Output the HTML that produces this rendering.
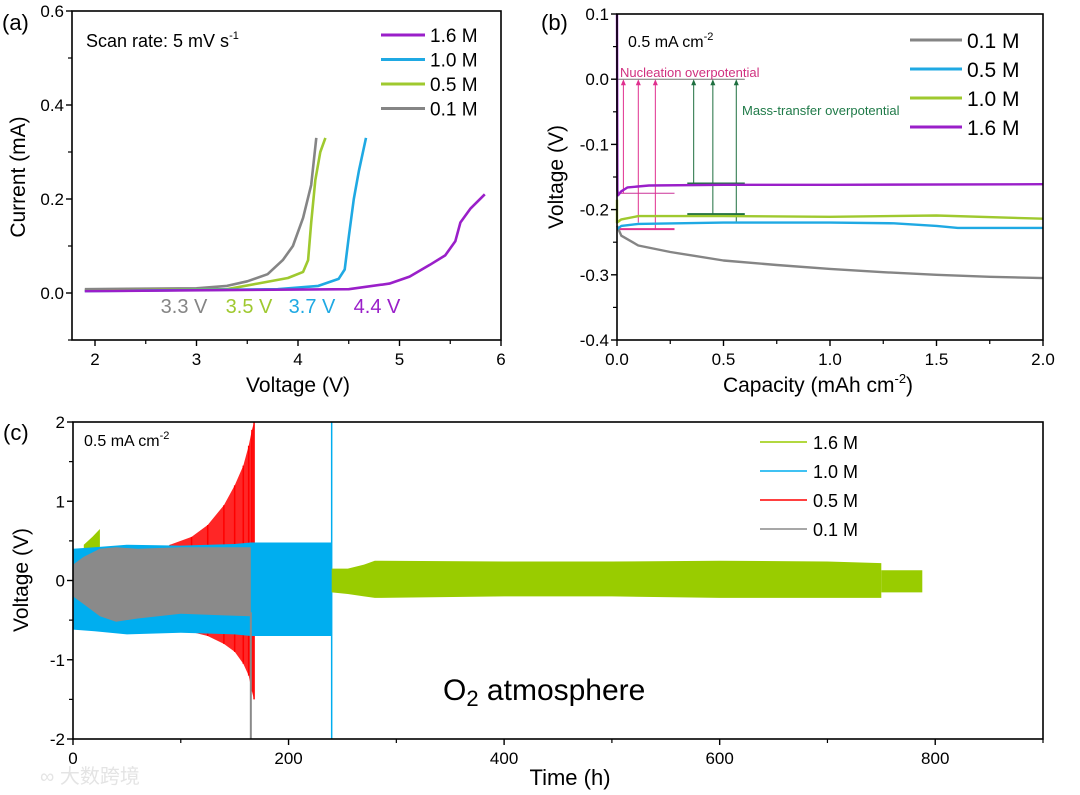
<!DOCTYPE html>
<html><head><meta charset="utf-8">
<style>
html,body{margin:0;padding:0;background:#fff;}
svg{display:block;font-family:"Liberation Sans","Noto Sans CJK SC",sans-serif;}
</style></head>
<body>
<svg id="fig" width="1080" height="795" viewBox="0 0 1080 795" xmlns="http://www.w3.org/2000/svg">
<rect width="1080" height="795" fill="#fff"/>
<g id="pa"></g>
<g id="pb"></g>
<g id="pc"></g>
<text x="40" y="783" font-size="20" fill="#e4e4e4">∞ 大数跨境</text>
</svg>
<script>
// ---------- Panel (a) data ----------
const aSeriesNames = ["1.6 M","1.0 M","0.5 M","0.1 M"];
const aColors = ["#9a1fc9","#1fa9e3","#9fc92f","#858585"];
const aGrayV = [1.9,3.0,3.3,3.5,3.7,3.85,3.95,4.05,4.13,4.18];
const aGrayI = [0.008,0.01,0.015,0.025,0.04,0.07,0.1,0.16,0.23,0.33];
const aGreenV = [1.9,3.3,3.6,3.9,4.05,4.1,4.13,4.17,4.22,4.27];
const aGreenI = [0.005,0.008,0.02,0.032,0.045,0.07,0.15,0.24,0.3,0.33];
const aBlueV = [1.9,3.8,4.2,4.4,4.46,4.5,4.55,4.6,4.67];
const aBlueI = [0.004,0.008,0.015,0.03,0.05,0.12,0.2,0.26,0.33];
const aPurpleV = [1.9,4.5,4.9,5.1,5.3,5.45,5.55,5.6,5.7,5.84];
const aPurpleI = [0.004,0.008,0.02,0.035,0.06,0.08,0.11,0.15,0.18,0.21];
const aXTicks = [2,3,4,5,6];
const aYTicks = [0.0,0.2,0.4,0.6];
const aOnset = ["3.3 V","3.5 V","3.7 V","4.4 V"];

// ---------- Panel (b) data ----------
const bSeriesNames = ["0.1 M","0.5 M","1.0 M","1.6 M"];
const bColors = ["#858585","#1fa9e3","#9fc92f","#9a1fc9"];
const bGrayX = [0,0.02,0.1,0.25,0.5,0.75,1.0,1.25,1.5,1.75,2.0];
const bGrayY = [-0.225,-0.24,-0.255,-0.265,-0.278,-0.285,-0.291,-0.296,-0.3,-0.303,-0.305];
const bBlueX = [0,0.02,0.1,0.5,1.0,1.3,1.5,1.6,2.0];
const bBlueY = [-0.23,-0.225,-0.222,-0.22,-0.22,-0.221,-0.225,-0.228,-0.228];
const bGreenX = [0,0,0.02,0.1,0.5,1.0,1.5,2.0];
const bGreenY = [-0.185,-0.22,-0.215,-0.21,-0.21,-0.211,-0.209,-0.214];
const bPurpleX = [0,0.002,0.005,0.02,0.05,0.15,0.5,1.0,2.0];
const bPurpleY = [0.1,-0.17,-0.178,-0.172,-0.166,-0.163,-0.162,-0.162,-0.161];
const bXTicks = [0,0.5,1.0,1.5,2.0];
const bYTicks = [0.1,0.0,-0.1,-0.2,-0.3,-0.4];
const bNucX = [0.03,0.1,0.18];
const bNucFrom = [-0.175,-0.22,-0.23];
const bMassX = [0.36,0.45,0.56];
const bMassFrom = [-0.16,-0.207,-0.22];

// ---------- Panel (c) data ----------
const cSeriesNames = ["1.6 M","1.0 M","0.5 M","0.1 M"];
const cColors = ["#99cc00","#00aeef","#ff0000","#8a8a8a"];
const cRedT = [90,110,125,140,150,158,163,166,168];
const cRedUp = [0.45,0.55,0.7,0.95,1.2,1.45,1.7,1.9,2.0];
const cRedLo = [-0.6,-0.65,-0.7,-0.8,-0.9,-1.05,-1.2,-1.4,-1.5];
const cBlueT = [0,20,50,100,150,165,200,240];
const cBlueUp = [0.4,0.42,0.45,0.44,0.46,0.48,0.48,0.48];
const cBlueLo = [-0.62,-0.64,-0.68,-0.66,-0.68,-0.7,-0.7,-0.7];
const cGrayT = [0,10,25,40,60,100,140,165];
const cGrayUp = [0.2,0.3,0.4,0.42,0.4,0.42,0.42,0.42];
const cGrayLo = [-0.2,-0.3,-0.45,-0.52,-0.48,-0.42,-0.44,-0.45];
const cGreenEarlyT = [10,18,25];
const cGreenEarlyUp = [0.45,0.55,0.65];
const cGreenT = [240,255,270,280,400,500,600,700,750];
const cGreenUp = [0.15,0.15,0.2,0.25,0.24,0.24,0.25,0.24,0.22];
const cGreenLo = [-0.15,-0.17,-0.2,-0.22,-0.2,-0.2,-0.22,-0.22,-0.22];
const cGreenTailT = [750,788];
const cGreenTailUp = [0.13,0.13];
const cGreenTailLo = [-0.15,-0.15];
const cXTicks = [0,200,400,600,800];
const cYTicks = [2,1,0,-1,-2];

const NS="http://www.w3.org/2000/svg";
function mk(parent,tag,attrs){const e=document.createElementNS(NS,tag);for(const k in attrs)e.setAttribute(k,attrs[k]);parent.appendChild(e);return e;}
function lin(d0,d1,r0,r1){return v=>r0+(v-d0)*(r1-r0)/(d1-d0);}
function pathOf(xs,ys,sx,sy){return xs.map((x,i)=>(i?"L":"M")+sx(x).toFixed(1)+" "+sy(ys[i]).toFixed(1)).join(" ");}
function bandOf(ts,up,lo,sx,sy){let d=ts.map((t,i)=>(i?"L":"M")+sx(t).toFixed(1)+" "+sy(up[i]).toFixed(1)).join(" ");for(let i=ts.length-1;i>=0;i--)d+="L"+sx(ts[i]).toFixed(1)+" "+sy(lo[i]).toFixed(1);return d+"Z";}
function txt(p,x,y,s,size,attrs){const e=mk(p,"text",Object.assign({x:x,y:y,"font-size":size},attrs||{}));e.textContent=s;return e;}

function frame(g,L,T,R,B,xt,yt,sx,sy,xminor,yminor,xfmt,yfmt){
  mk(g,"rect",{x:L,y:T,width:R-L,height:B-T,fill:"none",stroke:"#000","stroke-width":1.6});
  xt.forEach(v=>{const x=sx(v);mk(g,"line",{x1:x,y1:B,x2:x,y2:B+6,stroke:"#000","stroke-width":1.4});
    const t=txt(g,x,B+25,xfmt(v),17,{"text-anchor":"middle"});
    });
  xminor.forEach(v=>{const x=sx(v);mk(g,"line",{x1:x,y1:B,x2:x,y2:B+4,stroke:"#000","stroke-width":1.2});});
  yt.forEach(v=>{const y=sy(v);mk(g,"line",{x1:L-6,y1:y,x2:L,y2:y,stroke:"#000","stroke-width":1.4});
    const t=txt(g,L-8,y+6,yfmt(v),17,{"text-anchor":"end"});
    });
  yminor.forEach(v=>{const y=sy(v);mk(g,"line",{x1:L-4,y1:y,x2:L,y2:y,stroke:"#000","stroke-width":1.2});});
}

// ===== Panel A =====
(function(){
  const g=document.getElementById("pa");
  const L=72,T=11,R=501,B=340;
  const sx=lin(2,6,95,501), sy=lin(0,0.6,293,11);
  const series=[[aPurpleV,aPurpleI],[aBlueV,aBlueI],[aGreenV,aGreenI],[aGrayV,aGrayI]];
  for(let i=3;i>=0;i--){
    const p=mk(g,"path",{d:pathOf(series[i][0],series[i][1],sx,sy),fill:"none",stroke:aColors[i],"stroke-width":2.6,"stroke-linejoin":"round"});
    
    
  }
  frame(g,L,T,R,B,aXTicks,aYTicks,sx,sy,[2.5,3.5,4.5,5.5],[0.1,0.3,0.5,-0.1],v=>String(v),v=>v.toFixed(1));
  const ox=[184,249,312,377];
  const oc=["#858585","#9fc92f","#1fa9e3","#9a1fc9"];
  aOnset.forEach((s,i)=>{const t=txt(g,ox[i],313,s,20,{"text-anchor":"middle",fill:oc[i]});
    });
  aSeriesNames.forEach((s,i)=>{const y=35+i*24.5;
    const l=mk(g,"line",{x1:381,y1:y,x2:425,y2:y,stroke:aColors[i],"stroke-width":3});
    
    const t=txt(g,430,y+7,s,19,{});});
  const sr=txt(g,86,47,"Scan rate: 5 mV s",18,{});
  const ts=mk(sr,"tspan",{"font-size":11,dy:-8});ts.textContent="-1";
  const la=txt(g,2,30,"(a)",22,{});
  const yl=txt(g,0,0,"Current (mA)",21,{"text-anchor":"middle",transform:"translate(25,177) rotate(-90)"});
  
  const xl=txt(g,298,392,"Voltage (V)",21,{"text-anchor":"middle"});
  
})();

// ===== Panel B =====
(function(){
  const g=document.getElementById("pb");
  const L=617,T=14,R=1043,B=340;
  const sx=lin(0,2,617,1043), sy=lin(0.1,-0.4,14,340);
  mk(g,"line",{x1:sx(0),y1:sy(0),x2:sx(0.6),y2:sy(0),stroke:"#777","stroke-width":1});
  mk(g,"line",{x1:sx(0),y1:sy(-0.175),x2:sx(0.27),y2:sy(-0.175),stroke:"#cc3399","stroke-width":1});
  mk(g,"line",{x1:sx(0),y1:sy(-0.23),x2:sx(0.27),y2:sy(-0.23),stroke:"#e0308f","stroke-width":2});
  bNucX.forEach((x,i)=>{const a=mk(g,"line",{x1:sx(x),y1:sy(bNucFrom[i]),x2:sx(x),y2:sy(0)+2,stroke:"#e0308f","stroke-width":1});
    
    mk(g,"path",{d:`M${sx(x)-2.5} ${sy(0)+6}L${sx(x)} ${sy(0)}L${sx(x)+2.5} ${sy(0)+6}Z`,fill:"#e0308f"});});
  bMassX.forEach((x,i)=>{const a=mk(g,"line",{x1:sx(x),y1:sy(bMassFrom[i]),x2:sx(x),y2:sy(0)+2,stroke:"#1f6f40","stroke-width":1});
    
    mk(g,"path",{d:`M${sx(x)-2.5} ${sy(0)+6}L${sx(x)} ${sy(0)}L${sx(x)+2.5} ${sy(0)+6}Z`,fill:"#1f6f40"});});
  [-0.16,-0.207,-0.22].forEach(v=>mk(g,"line",{x1:sx(0.33),y1:sy(v),x2:sx(0.6),y2:sy(v),stroke:"#1f6f40","stroke-width":v==-0.22?1:2}));
  const series=[[bGrayX,bGrayY],[bBlueX,bBlueY],[bGreenX,bGreenY],[bPurpleX,bPurpleY]];
  series.forEach((s,i)=>{const p=mk(g,"path",{d:pathOf(s[0],s[1],sx,sy),fill:"none",stroke:bColors[i],"stroke-width":2.4,"stroke-linejoin":"round"});
    });
  frame(g,L,T,R,B,bXTicks,bYTicks,sx,sy,[0.25,0.75,1.25,1.75],[0.05,-0.05,-0.15,-0.25,-0.35],v=>v.toFixed(1),v=>v.toFixed(1));
  const n=txt(g,620,77,"Nucleation overpotential",13,{fill:"#d0307f"});
  const m=txt(g,742,115,"Mass-transfer overpotential",13,{fill:"#1f7a48"});
  bSeriesNames.forEach((s,i)=>{const y=40+i*29;
    const l=mk(g,"line",{x1:910,y1:y,x2:962,y2:y,stroke:bColors[i],"stroke-width":3});
    
    const t=txt(g,967,y+8,s,21,{});});
  const c=txt(g,628,47,"0.5 mA cm",16,{});
  const ts=mk(c,"tspan",{"font-size":11,dy:-7});ts.textContent="-2";
  const lb=txt(g,541,30,"(b)",22,{});
  const yl=txt(g,0,0,"Voltage (V)",21,{"text-anchor":"middle",transform:"translate(563,177) rotate(-90)"});
  
  const xl=txt(g,818,392,"Capacity (mAh cm",21,{"text-anchor":"middle"});
  
  const t1=mk(xl,"tspan",{"font-size":13,dy:-9});t1.textContent="-2";
  const t2=mk(xl,"tspan",{dy:9});t2.textContent=")";
})();

// ===== Panel C =====
(function(){
  const g=document.getElementById("pc");
  const L=73,T=422,R=1043,B=739;
  const sx=lin(0,900,73,1043), sy=lin(2,-2,422,739);
  const ge=mk(g,"path",{d:bandOf(cGreenEarlyT,cGreenEarlyUp,cGreenEarlyT.map(()=>0),sx,sy),fill:cColors[0]});
  
  const r=mk(g,"g",{});
  mk(r,"path",{d:bandOf(cRedT,cRedUp,cRedLo,sx,sy),fill:cColors[2],"fill-opacity":0.85});
  cRedT.forEach((t,i)=>{mk(r,"line",{x1:sx(t),y1:sy(cRedUp[i]),x2:sx(t),y2:sy(cRedLo[i]),stroke:"#ff0000","stroke-width":1.5});});
  const bl=mk(g,"path",{d:bandOf(cBlueT,cBlueUp,cBlueLo,sx,sy),fill:cColors[1]});
  
  const bs=mk(g,"line",{x1:sx(240),y1:sy(2),x2:sx(240),y2:sy(-2),stroke:cColors[1],"stroke-width":1.5});
  
  const gr=mk(g,"path",{d:bandOf(cGrayT,cGrayUp,cGrayLo,sx,sy),fill:cColors[3]});
  
  const gs=mk(g,"line",{x1:sx(165),y1:sy(-0.4),x2:sx(165),y2:sy(-2),stroke:"#8a8a8a","stroke-width":2});
  
  const gn=mk(g,"path",{d:bandOf(cGreenT,cGreenUp,cGreenLo,sx,sy),fill:cColors[0]});
  
  const gt=mk(g,"path",{d:bandOf(cGreenTailT,cGreenTailUp,cGreenTailLo,sx,sy),fill:cColors[0]});
  
  frame(g,L,T,R,B,cXTicks,cYTicks,sx,sy,[100,300,500,700,900],[1.5,0.5,-0.5,-1.5],v=>String(v),v=>String(v));
  cSeriesNames.forEach((s,i)=>{const y=442+i*29;
    const l=mk(g,"line",{x1:760,y1:y,x2:807,y2:y,stroke:cColors[i],"stroke-width":1.5});
    
    const t=txt(g,813,y+7,s,18,{});});
  const c=txt(g,84,446,"0.5 mA cm",16,{});
  const ts=mk(c,"tspan",{"font-size":11,dy:-7});ts.textContent="-2";
  const o=txt(g,443,700,"O",30,{});
  const s2=mk(o,"tspan",{"font-size":22,dy:6});s2.textContent="2";
  const s3=mk(o,"tspan",{dy:-6});s3.textContent=" atmosphere";
  const lc=txt(g,3,440,"(c)",22,{});
  const yl=txt(g,0,0,"Voltage (V)",21,{"text-anchor":"middle",transform:"translate(28,580) rotate(-90)"});
  
  const xl=txt(g,570,785,"Time (h)",22,{"text-anchor":"middle"});
  
})();
</script>
</body></html>
